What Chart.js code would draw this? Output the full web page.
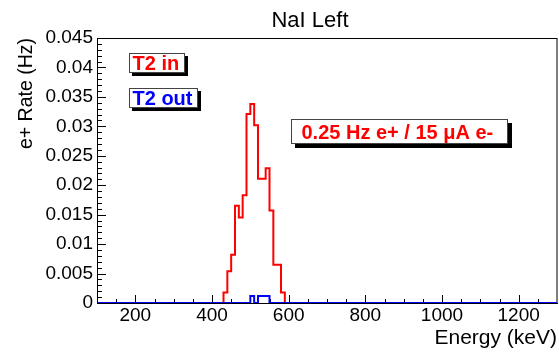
<!DOCTYPE html>
<html>
<head>
<meta charset="utf-8">
<script src="https://cdn.jsdelivr.net/npm/chart.js@4/dist/chart.umd.min.js"></script>
<style>
  html, body { margin: 0; padding: 0; background: #ffffff; }
  #wrap { width: 559px; height: 354px; }
</style>
</head>
<body>
<div id="wrap"><canvas id="c" width="559" height="354"></canvas></div>
<script>
// NaI Left: positron rate spectrum, 10 keV bins (lower edges in keV)
const binLowEdges = [420, 430, 440, 450, 460, 470, 480, 490, 500, 510, 520, 530, 540, 550, 560, 570, 580, 590];
const binWidth = 10;
const t2InRate  = [0, 0.0018, 0.0054, 0.0082, 0.0165, 0.0145, 0.0183, 0.0321, 0.0338, 0.0302, 0.0211, 0.0211, 0.0229, 0.0157, 0.0065, 0.0065, 0.0018, 0];
const t2OutRate = [0, 0,      0,      0,      0,      0,      0,      0,      0.0012, 0,      0.0012, 0.0012, 0.0012, 0,      0,      0,      0,      0];

const energyRange = [100, 1300];
const rateRange = [0, 0.045];
const xTickValues = [200, 400, 600, 800, 1000, 1200];
const xTickLabels = ['200', '400', '600', '800', '1000', '1200'];
const yTickValues = [0, 0.005, 0.01, 0.015, 0.02, 0.025, 0.03, 0.035, 0.04, 0.045];
const yTickLabels = ['0', '0.005', '0.01', '0.015', '0.02', '0.025', '0.03', '0.035', '0.04', '0.045'];
const xMinorStep = 50;
const yMinorStep = 0.001;

const FONT = 'Liberation Sans, Arial, Helvetica, sans-serif';

// Step outline of a histogram, running along zero over the whole axis.
// Each point opens a bin; its value holds until the next edge.
function histogramPoints(values) {
  const pts = [{ x: energyRange[0], y: 0 }];
  binLowEdges.forEach((edge, i) => pts.push({ x: edge, y: values[i] }));
  pts.push({ x: binLowEdges[binLowEdges.length - 1] + binWidth, y: 0 });
  pts.push({ x: energyRange[1], y: 0 });
  return pts;
}

// Text boxes with drop shadow
const textBoxes = [
  { text: 'T2 in',  color: '#ff0000', x: 129, y: 53,  w: 56,  h: 20, pad: 3.5, shadow: 3 },
  { text: 'T2 out', color: '#0000ff', x: 129, y: 88,  w: 69,  h: 20, pad: 3.5, shadow: 3 },
  { text: '0.25 Hz e+ / 15 \u03bcA e-', color: '#ff0000', x: 291, y: 119, w: 217, h: 25, pad: 10.5, shadow: 4 }
];

const chartTitle = { text: 'NaI Left', x: 310, y: 27, size: 22 };

const framePlugin = {
  id: 'frameAndTicks',
  beforeDatasetsDraw(chart) {
    const { ctx, chartArea: a } = chart;
    const xs = chart.scales.x, ys = chart.scales.y;
    ctx.save();
    ctx.strokeStyle = '#000';
    ctx.lineWidth = 1;
    ctx.beginPath();
    // inward tick marks along the energy axis
    for (let v = energyRange[0] + xMinorStep; v < energyRange[1]; v += xMinorStep) {
      const px = Math.round(xs.getPixelForValue(v)) + 0.5;
      const len = xTickValues.includes(v) ? 8 : 4;
      ctx.moveTo(px, a.bottom);
      ctx.lineTo(px, a.bottom - len);
    }
    // inward tick marks along the rate axis
    const nMinor = Math.round((rateRange[1] - rateRange[0]) / yMinorStep);
    for (let k = 1; k <= nMinor; k++) {
      const v = rateRange[0] + k * yMinorStep;
      const py = Math.round(ys.getPixelForValue(v)) + 0.5;
      const len = k % 5 === 0 ? 9 : 5;
      ctx.moveTo(a.left, py);
      ctx.lineTo(a.left + len, py);
    }
    ctx.stroke();
    // frame top and right
    ctx.beginPath();
    ctx.moveTo(a.left, a.top + 0.5);
    ctx.lineTo(a.right, a.top + 0.5);
    ctx.stroke();
    ctx.beginPath();
    ctx.moveTo(a.right, a.top);
    ctx.lineTo(a.right, a.bottom);
    ctx.stroke();
    ctx.restore();
  },
  afterDraw(chart) {
    const { ctx } = chart;
    ctx.save();
    // title
    ctx.fillStyle = '#000';
    ctx.font = chartTitle.size + 'px ' + FONT;
    ctx.textAlign = 'center';
    ctx.textBaseline = 'alphabetic';
    ctx.fillText(chartTitle.text, chartTitle.x, chartTitle.y);
    // text boxes
    ctx.font = 'bold 20px ' + FONT;
    ctx.textAlign = 'left';
    textBoxes.forEach(b => {
      ctx.fillStyle = '#000';
      ctx.fillRect(b.x + b.shadow, b.y + b.shadow, b.w, b.h);
      ctx.fillStyle = '#fff';
      ctx.fillRect(b.x, b.y, b.w, b.h);
      ctx.strokeStyle = '#444';
      ctx.lineWidth = 1;
      ctx.strokeRect(b.x + 0.5, b.y + 0.5, b.w - 1, b.h - 1);
      ctx.fillStyle = b.color;
      ctx.fillText(b.text, b.x + b.pad, b.y + b.h / 2 + 7.2);
    });
    ctx.restore();
  }
};

new Chart(document.getElementById('c'), {
  type: 'line',
  data: {
    datasets: [
      {
        label: 'T2 out',
        data: histogramPoints(t2OutRate),
        borderColor: '#0000ff',
        borderWidth: 2,
        stepped: 'before',
        pointRadius: 0,
        fill: false
      },
      {
        label: 'T2 in',
        data: histogramPoints(t2InRate),
        borderColor: '#ff0000',
        borderWidth: 2,
        stepped: 'before',
        pointRadius: 0,
        fill: false
      }
    ]
  },
  options: {
    responsive: false,
    animation: false,
    devicePixelRatio: 1,
    layout: { padding: { top: 38, right: 2, bottom: 0, left: 0 } },
    plugins: { legend: { display: false }, tooltip: { enabled: false }, title: { display: false } },
    scales: {
      x: {
        type: 'linear',
        min: energyRange[0],
        max: energyRange[1],
        afterBuildTicks: s => { s.ticks = xTickValues.map(v => ({ value: v })); },
        afterFit: s => { s.height = 51; },
        ticks: {
          callback: v => xTickLabels[xTickValues.indexOf(v)],
          font: { family: FONT, size: 19 },
          color: '#000',
          padding: 1,
          maxRotation: 0,
          autoSkip: false
        },
        grid: { display: false, drawTicks: false },
        border: { display: true, color: '#000', width: 1 },
        title: {
          display: true,
          text: 'Energy (keV)',
          align: 'end',
          color: '#000',
          font: { family: FONT, size: 21 },
          padding: { top: 0, bottom: 3 }
        }
      },
      y: {
        min: rateRange[0],
        max: rateRange[1],
        afterBuildTicks: s => { s.ticks = yTickValues.map(v => ({ value: v })); },
        afterFit: s => { s.width = 97; },
        ticks: {
          callback: v => yTickLabels[yTickValues.findIndex(t => Math.abs(t - v) < 1e-9)],
          font: { family: FONT, size: 19 },
          color: '#000',
          padding: 4,
          autoSkip: false
        },
        grid: { display: false, drawTicks: false },
        border: { display: true, color: '#000', width: 1 },
        title: {
          display: true,
          text: 'e+ Rate (Hz)',
          align: 'end',
          color: '#000',
          font: { family: FONT, size: 19.5 },
          padding: { top: 15, bottom: 0 }
        }
      }
    }
  },
  plugins: [framePlugin]
});
</script>
</body>
</html>
